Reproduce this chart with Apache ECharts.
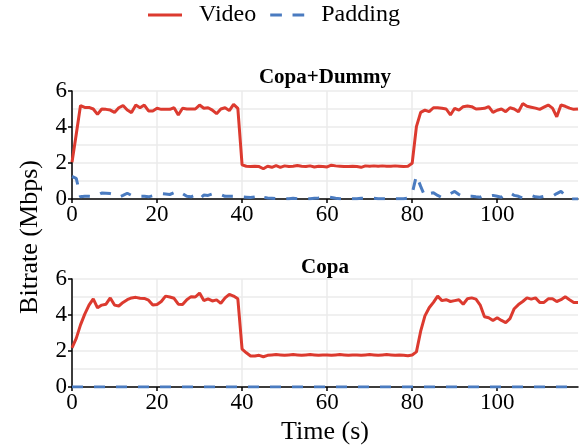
<!DOCTYPE html>
<html>
<head>
<meta charset="utf-8">
<title>Bitrate over time</title>
<script src="https://cdn.jsdelivr.net/npm/echarts@6/dist/echarts.min.js"></script>
<style>
  html, body { margin: 0; padding: 0; background: #fff; }
  #chart { width: 586px; height: 446px; }
</style>
</head>
<body>
<div id="chart"></div>
<script>
// Time in seconds, one sample per second
const seconds = Array.from({ length: 120 }, (_, i) => i);
const timeTicks = [0, 20, 40, 60, 80, 100];
const panelTitles = ['Copa+Dummy', 'Copa'];
const seriesNames = ['Video', 'Padding'];

// Copa+Dummy: video bitrate (Mbps)
const dummyVideo = [
  2.04, 3.6, 5.19, 5.09, 5.09, 5.0, 4.7, 5.0, 4.98, 4.94,
  4.81, 5.07, 5.19, 4.94, 4.8, 5.22, 5.07, 5.22, 4.89, 4.89,
  5.04, 4.98, 4.98, 4.98, 5.07, 4.67, 5.04, 5.0, 5.0, 5.0,
  5.22, 5.04, 5.07, 4.94, 4.74, 5.0, 5.07, 4.91, 5.26, 5.04,
  1.9, 1.82, 1.8, 1.82, 1.8, 1.68, 1.82, 1.76, 1.86, 1.76,
  1.84, 1.8, 1.82, 1.86, 1.82, 1.8, 1.84, 1.78, 1.82, 1.8,
  1.78, 1.88, 1.84, 1.82, 1.8, 1.8, 1.82, 1.8, 1.76, 1.84,
  1.82, 1.84, 1.82, 1.84, 1.82, 1.82, 1.84, 1.82, 1.8, 1.82,
  1.98, 4.02, 4.81, 4.94, 4.85, 5.07, 5.07, 5.04, 5.0, 4.67,
  5.04, 4.94, 5.13, 5.17, 5.13, 5.0, 5.02, 5.04, 5.13, 4.81,
  4.93, 5.0, 4.85, 5.07, 5.0, 4.85, 5.3, 5.15, 5.1, 5.05,
  4.98, 5.1, 5.22, 5.05, 4.57, 5.22, 5.15, 5.05, 4.98, 5.0
];

// Copa+Dummy: padding bitrate (Mbps)
const dummyPadding = [
  1.25, 1.15, 0.12, 0.15, 0.15, 0.12, 0.2, 0.33, 0.32, 0.3,
  0.25, 0.1, 0.2, 0.32, 0.2, 0.12, 0.15, 0.15, 0.12, 0.18,
  0.25, 0.3, 0.28, 0.25, 0.35, 0.46, 0.3, 0.15, 0.12, 0.22,
  0.0, 0.22, 0.2, 0.28, 0.34, 0.25, 0.15, 0.15, 0.15, 0.15,
  0.12, 0.1, 0.08, 0.12, 0.25, 0.1, 0.06, 0.04, 0.02, 0.02,
  0.02, 0.02, 0.04, 0.02, 0.02, 0.02, 0.02, 0.04, 0.06, 0.1,
  0.12, 0.08, 0.04, 0.02, 0.02, 0.02, 0.02, 0.02, 0.04, 0.05,
  0.05, 0.04, 0.02, 0.02, 0.02, 0.02, 0.02, 0.02, 0.02, 0.05,
  0.3, 1.3, 0.7, 0.15, 0.3, 0.35, 0.2, 0.08, 0.15, 0.3,
  0.42, 0.25, 0.12, 0.15, 0.15, 0.12, 0.1, 0.2, 0.15, 0.2,
  0.15, 0.1, 0.3, 0.35, 0.2, 0.15, 0.05, 0.15, 0.2, 0.12,
  0.1, 0.15, 0.15, 0.15, 0.3, 0.42, 0.2, 0.0, 0.0, 0.0
];

// Copa: video bitrate (Mbps)
const copaVideo = [
  2.17, 2.7, 3.45, 4.05, 4.55, 4.9, 4.4, 4.55, 4.6, 4.95,
  4.55, 4.5, 4.7, 4.85, 4.95, 4.98, 4.93, 4.92, 4.82, 4.55,
  4.58, 4.75, 5.05, 5.0, 4.93, 4.6, 4.58, 4.85, 5.02, 5.0,
  5.22, 4.8, 4.9, 4.78, 4.84, 4.65, 4.95, 5.15, 5.05, 4.9,
  2.1, 1.9, 1.72, 1.72, 1.76, 1.68, 1.76, 1.78, 1.8, 1.78,
  1.76, 1.78, 1.8, 1.78, 1.76, 1.78, 1.8, 1.78, 1.76, 1.78,
  1.78, 1.76, 1.78, 1.8, 1.78, 1.76, 1.78, 1.78, 1.76, 1.78,
  1.8, 1.78, 1.76, 1.78, 1.8, 1.78, 1.76, 1.78, 1.76, 1.74,
  1.78, 1.95, 3.1, 3.95, 4.4, 4.7, 5.05, 4.8, 4.85, 4.75,
  4.8, 4.85, 4.6, 4.9, 4.95, 4.88, 4.55, 3.9, 3.85, 3.7,
  3.85, 3.7, 3.58, 3.8, 4.35, 4.58, 4.75, 4.95, 4.88, 4.95,
  4.7, 4.7, 4.9, 4.9, 4.75, 4.85, 5.01, 4.85, 4.7, 4.7
];

// Copa: padding bitrate (Mbps)
const copaPadding = [
  0, 0, 0, 0, 0, 0, 0, 0, 0, 0, 0, 0, 0, 0, 0, 0, 0, 0, 0, 0,
  0, 0, 0, 0, 0, 0, 0, 0, 0, 0, 0, 0, 0, 0, 0, 0, 0, 0, 0, 0,
  0, 0, 0, 0, 0, 0, 0, 0, 0, 0, 0, 0, 0, 0, 0, 0, 0, 0, 0, 0,
  0, 0, 0, 0, 0, 0, 0, 0, 0, 0, 0, 0, 0, 0, 0, 0, 0, 0, 0, 0,
  0, 0, 0, 0, 0, 0, 0, 0, 0, 0, 0, 0, 0, 0, 0, 0, 0, 0, 0, 0,
  0, 0, 0, 0, 0, 0, 0, 0, 0, 0, 0, 0, 0, 0, 0, 0, 0, 0, 0, 0
];

const FONT = "'Liberation Serif', 'Times New Roman', serif";
const RED = '#dc3a2f';
const BLUE = '#4a7bc0';
const GRID_GRAY = '#ebebeb';

function pairs(values) {
  return values.map((v, i) => [seconds[i], v]);
}

function timeAxis(gridIndex) {
  return {
    type: 'value', gridIndex, min: 0, max: 119, interval: 10,
    axisLine: { show: true, onZero: false, lineStyle: { color: '#000', width: 1.5 } },
    axisTick: { show: true, customValues: timeTicks, length: 4, lineStyle: { color: '#000', width: 1.5 } },
    axisLabel: {
      customValues: timeTicks, color: '#000', fontSize: 23, fontFamily: FONT, margin: 4,
      formatter: v => (v % 20 === 0 ? String(v) : '')
    },
    splitLine: { show: true, showMaxLine: false, lineStyle: { color: GRID_GRAY, width: 1.5 } }
  };
}

function rateAxis(gridIndex) {
  return {
    type: 'value', gridIndex, min: 0, max: 6, interval: 2,
    axisLine: { show: true, onZero: false, lineStyle: { color: '#000', width: 1.5 } },
    axisTick: { show: true, length: 4, lineStyle: { color: '#000', width: 1.5 } },
    axisLabel: { color: '#000', fontSize: 23, fontFamily: FONT, margin: 5 },
    splitLine: { show: true, lineStyle: { color: GRID_GRAY, width: 1.5 } },
    minorTick: { show: false, splitNumber: 2 },
    minorSplitLine: { show: true, lineStyle: { color: GRID_GRAY, width: 1.5 } }
  };
}

function videoSeries(values, idx) {
  return {
    name: seriesNames[0], type: 'line', xAxisIndex: idx, yAxisIndex: idx,
    data: pairs(values), symbol: 'none', silent: true, z: 3,
    lineStyle: { color: RED, width: 3 }, itemStyle: { color: RED }
  };
}

function paddingSeries(values, idx) {
  return {
    name: seriesNames[1], type: 'line', xAxisIndex: idx, yAxisIndex: idx,
    data: pairs(values), symbol: 'none', silent: true, z: 4,
    lineStyle: { color: BLUE, width: 3, type: [11, 11] }, itemStyle: { color: BLUE }
  };
}

const chart = echarts.init(document.getElementById('chart'), null, { renderer: 'canvas' });

const titleStyle = { fontFamily: FONT, fontWeight: 'bold', fontSize: 21, color: '#000' };

chart.setOption({
  animation: false,
  backgroundColor: '#fff',
  textStyle: { fontFamily: FONT },
  title: [
    { text: panelTitles[0], left: 320, top: 62, textAlign: 'center', textStyle: titleStyle },
    { text: panelTitles[1], left: 320, top: 252, textAlign: 'center', textStyle: titleStyle }
  ],
  legend: {
    data: [
      { name: seriesNames[0], icon: 'path://M0,0H34V3H0Z' },
      { name: seriesNames[1], icon: 'path://M0,0H11V3H0Z M21,0H32V3H21Z' }
    ],
    left: 143, top: -2, itemWidth: 34, itemHeight: 14, itemGap: 14,
    textStyle: { fontFamily: FONT, fontSize: 24, color: '#000', padding: [0, 0, 0, 12] }
  },
  grid: [
    { left: 72, width: 506, top: 91, height: 108 },
    { left: 72, width: 506, top: 279, height: 108 }
  ],
  xAxis: [
    timeAxis(0),
    Object.assign(timeAxis(1), {
      name: 'Time (s)', nameLocation: 'middle', nameGap: 32,
      nameTextStyle: { fontFamily: FONT, fontSize: 26, color: '#000' }
    })
  ],
  yAxis: [rateAxis(0), rateAxis(1)],
  graphic: [{
    type: 'text', x: 30, y: 237, rotation: Math.PI / 2,
    style: { text: 'Bitrate (Mbps)', font: "26px 'Liberation Serif', serif", fill: '#000',
      textAlign: 'center', textVerticalAlign: 'middle' }
  }],
  series: [
    videoSeries(dummyVideo, 0), paddingSeries(dummyPadding, 0),
    videoSeries(copaVideo, 1), paddingSeries(copaPadding, 1)
  ]
});
</script>
</body>
</html>
